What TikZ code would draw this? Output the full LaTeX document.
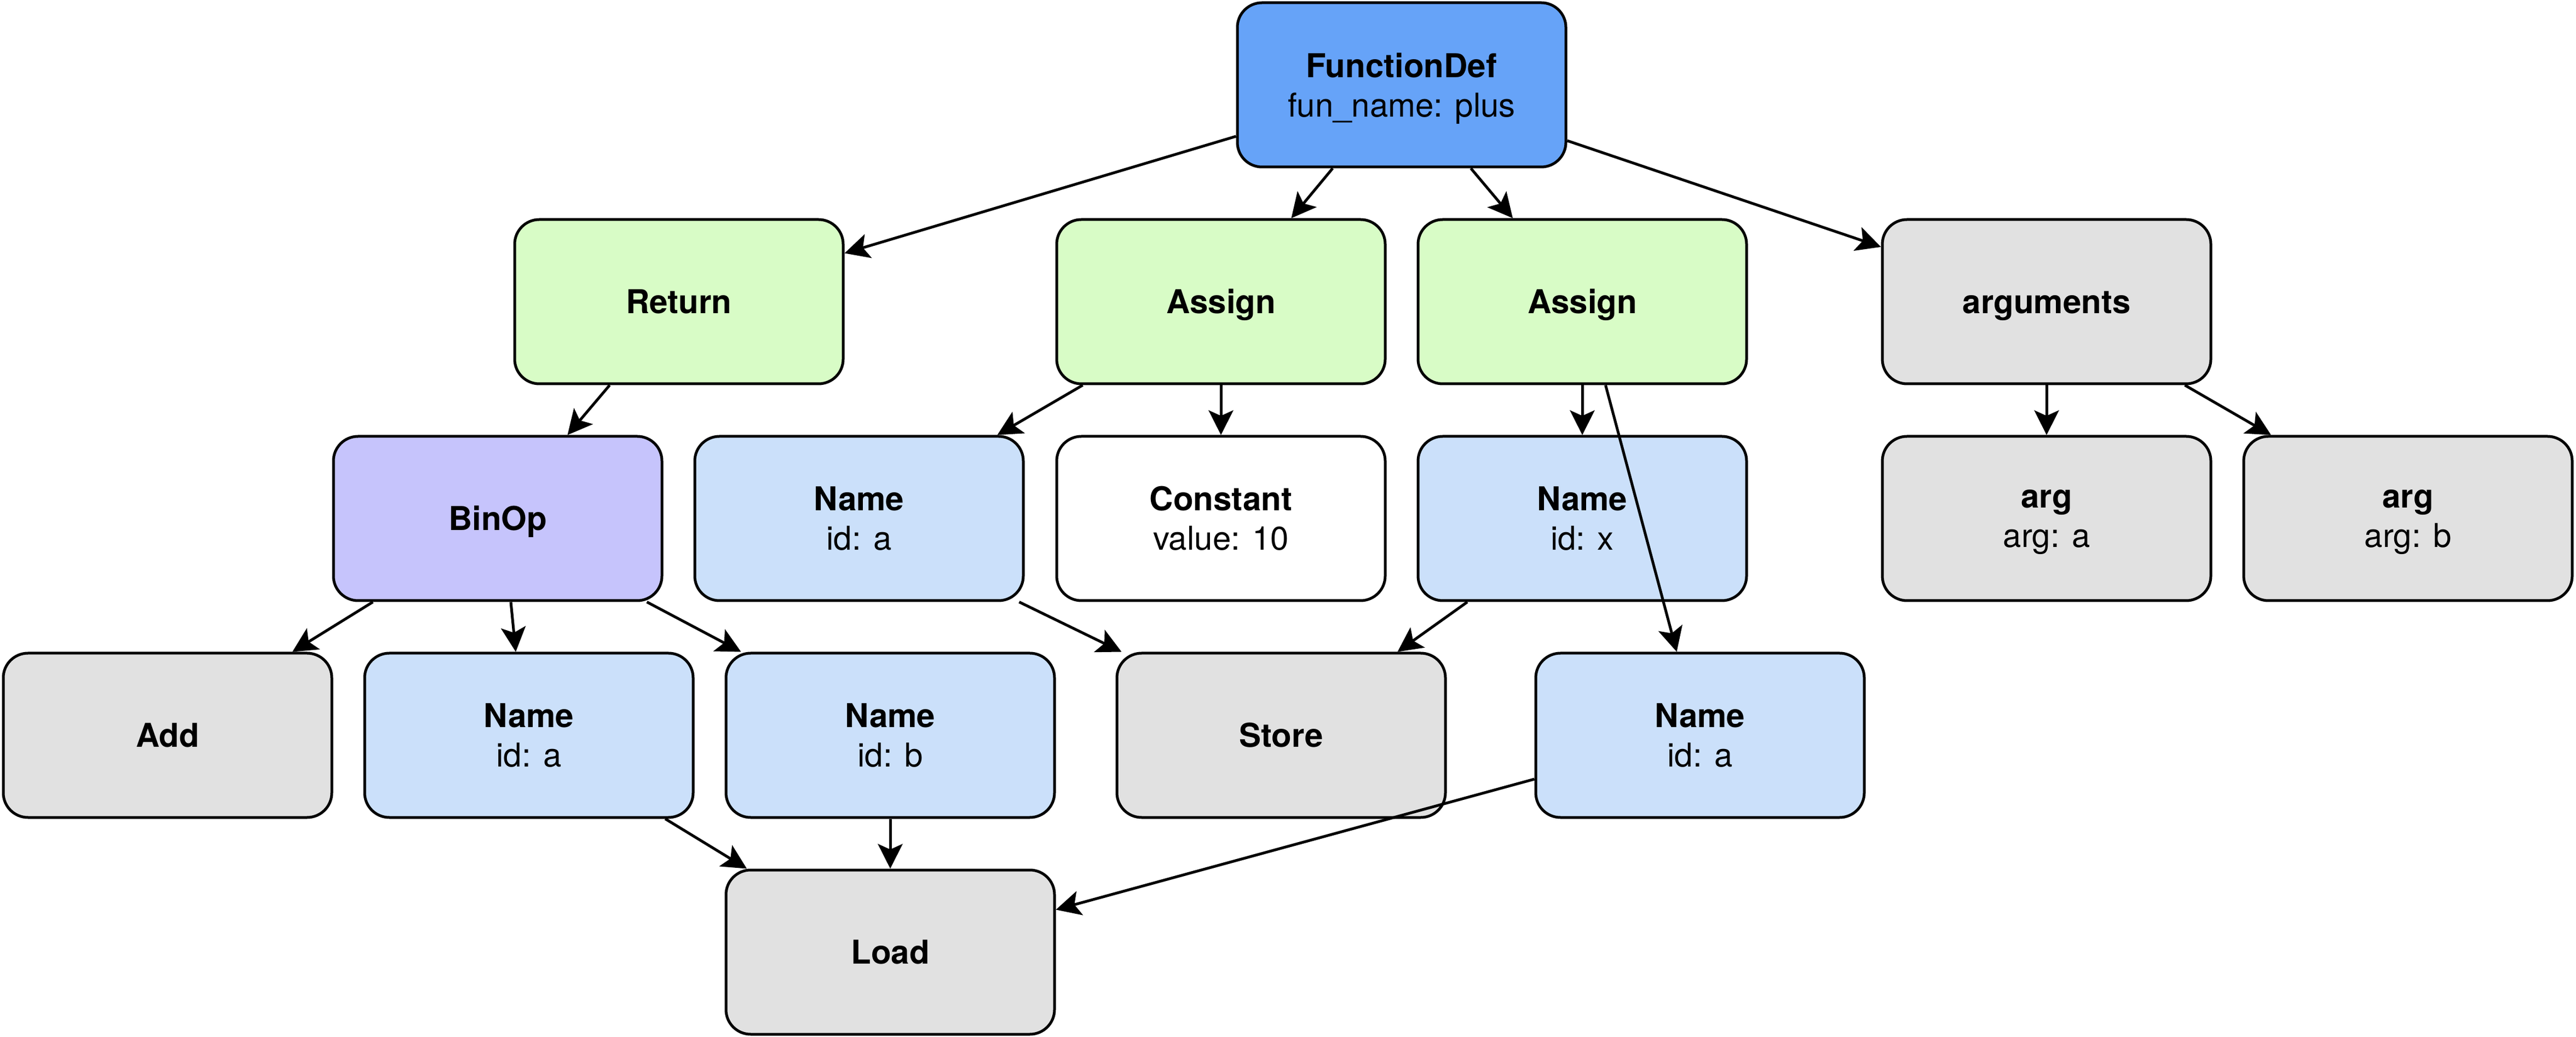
\documentclass[tikz,border=0pt]{standalone}
\usepackage{fontspec}
\setmainfont{TeX Gyre Heros}
\usetikzlibrary{arrows.meta}
\definecolor{cfd}{RGB}{102,163,248}
\definecolor{cgreen}{RGB}{216,252,198}
\definecolor{cpurple}{RGB}{198,196,252}
\definecolor{cblue}{RGB}{203,224,250}
\definecolor{cgray}{RGB}{225,225,225}
\begin{document}
\begin{tikzpicture}[x=1pt,y=1pt,
  box/.style={draw=black, line width=1pt, rectangle, rounded corners=9pt,
    minimum width=120pt, minimum height=60pt, inner sep=0pt, align=center,
    font=\fontsize{12}{14.4}\selectfont},
  onebox/.style={box, text height=8.6pt, text depth=0pt},
  conn/.style={line width=1pt, -{Stealth[length=9pt,width=9pt,inset=2pt]}}]
\useasboundingbox (0,0) rectangle (941,-378.8);
% nodes
\node[box, fill=cfd] (fd) at (512,-31) {\textbf{FunctionDef}\\\smash{fun\_name: plus}};
\node[onebox, fill=cgreen] (ret) at (248,-110.2) {\textbf{Return}};
\node[onebox, fill=cgreen] (as1) at (446,-110.2) {\textbf{Assign}};
\node[onebox, fill=cgreen] (as2) at (578,-110.2) {\textbf{Assign}};
\node[onebox, fill=cgray] (args) at (747.6,-110.2) {\textbf{arguments}};
\node[onebox, fill=cpurple] (binop) at (181.8,-189.4) {\textbf{BinOp}};
\node[box, fill=cblue] (na1) at (313.8,-189.4) {\textbf{Name}\\id: a};
\node[box, fill=white] (const) at (446,-189.4) {\textbf{Constant}\\value: 10};
\node[box, fill=cblue] (nx) at (578,-189.4) {\textbf{Name}\\id: x};
\node[box, fill=cgray] (arga) at (747.6,-189.4) {\textbf{arg}\\\smash{arg: a}};
\node[box, fill=cgray] (argb) at (879.6,-189.4) {\textbf{arg}\\\smash{arg: b}};
\node[onebox, fill=cgray] (add) at (61.2,-268.6) {\textbf{Add}};
\node[box, fill=cblue] (na2) at (193.2,-268.6) {\textbf{Name}\\id: a};
\node[box, fill=cblue] (nb) at (325.2,-268.6) {\textbf{Name}\\id: b};
\node[onebox, fill=cgray] (store) at (468,-268.6) {\textbf{Store}};
\node[box, fill=cblue] (na3) at (621,-268.6) {\textbf{Name}\\id: a};
\node[onebox, fill=cgray] (load) at (325.2,-347.8) {\textbf{Load}};
% connectors
\draw[conn] ([yshift=-18.8pt]fd.west) -- ([yshift=17.7pt]ret.east);
\draw[conn] ([xshift=-25.2pt]fd.south) -- ([xshift=25.7pt]as1.north);
\draw[conn] ([xshift=25.3pt]fd.south) -- ([xshift=-25.4pt]as2.north);
\draw[conn] ([yshift=-20.4pt]fd.east) -- ([yshift=20pt]args.west);
\draw[conn] ([xshift=-25.3pt]ret.south) -- ([xshift=25.5pt]binop.north);
\draw[conn] ([xshift=-50.5pt]as1.south) -- ([xshift=50.5pt]na1.north);
\draw[conn] (as1.south) -- (const.north);
\draw[conn] (as2.south) -- (nx.north);
\draw[conn] ([xshift=8.5pt]as2.south) -- ([xshift=-8.5pt]na3.north);
\draw[conn] (args.south) -- (arga.north);
\draw[conn] ([xshift=50.5pt]args.south) -- ([xshift=-50pt]argb.north);
\draw[conn] ([xshift=-45.6pt]binop.south) -- ([xshift=45.6pt]add.north);
\draw[conn] ([xshift=4.8pt]binop.south) -- ([xshift=-4.8pt]na2.north);
\draw[conn] ([xshift=54.5pt]binop.south) -- ([xshift=-54.5pt]nb.north);
\draw[conn] ([xshift=58.5pt]na1.south) -- ([xshift=-58.3pt]store.north);
\draw[conn] ([xshift=-42pt]nx.south) -- ([xshift=42.5pt]store.north);
\draw[conn] ([xshift=49.8pt]na2.south) -- ([xshift=-52.4pt]load.north);
\draw[conn] (nb.south) -- (load.north);
\draw[conn] ([yshift=-16pt]na3.west) -- ([yshift=15.5pt]load.east);
\end{tikzpicture}
\end{document}
